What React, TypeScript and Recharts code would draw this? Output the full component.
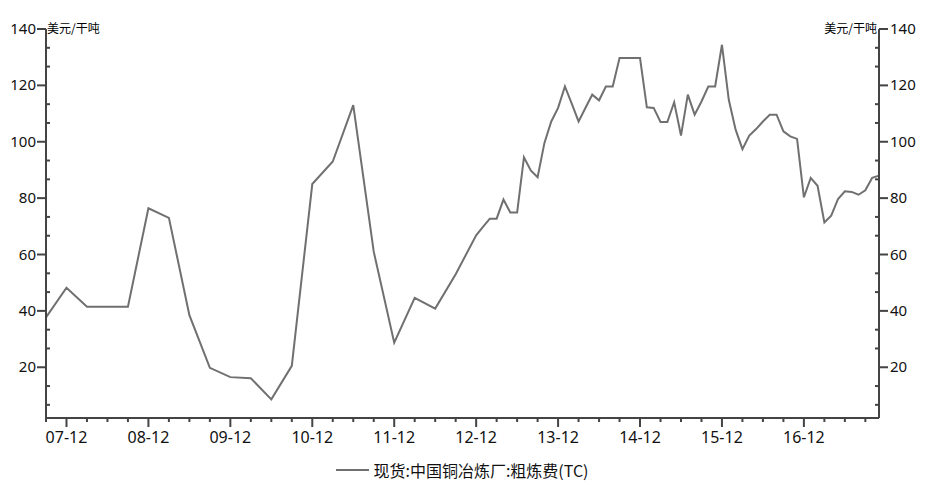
import React from 'react';
import { LineChart, Line, XAxis, YAxis, Legend } from 'recharts';

// month index: 0 = 2007-01
const months = [
  8, 11, 14, 17, 20, 23, 26, 29, 32, 35, 38, 41, 44, 47, 50, 53, 56, 59, 62, 65, 68,
  71, 72, 73, 74, 75, 76, 77, 78, 79, 80, 81, 82, 83, 84, 85, 86, 87, 88, 89, 90,
  91, 92, 93, 94, 95, 96, 97, 98, 99, 100, 101, 102, 103, 104, 105, 106, 107, 108,
  109, 110, 111, 112, 113, 114, 115, 116, 117, 118, 119, 120, 121, 122, 123, 124,
  125, 126, 127, 128, 129, 130,
];
const tcValues = [
  37.7, 48.2, 41.5, 41.5, 41.5, 76.4, 73, 38.5, 19.8, 16.5, 16.1, 8.6, 20.5, 85, 93, 113, 61, 28.7, 44.6, 40.8, 53,
  66.8, 69.8, 72.7, 72.7, 79.5, 74.9, 74.9, 94.5, 89.8, 87.4, 99.6, 107.2, 112, 119.6, 113.5, 107.2, 112, 116.7, 114.7, 119.6,
  119.6, 129.7, 129.7, 129.7, 129.7, 112.2, 112, 107, 107, 114, 102.2, 116.7, 109.6, 114.3, 119.6, 119.6, 134.4, 114.9,
  104.3, 97.4, 102.2, 104.5, 107.2, 109.6, 109.6, 103.7, 101.9, 101, 80.3, 87.2, 84.4, 71.4, 73.8, 79.7,
  82.4, 82.2, 81.2, 82.8, 87.2, 88,
];
const xTicks = [8, 11, 14, 17, 20, 23, 26, 29, 32, 35, 38, 41, 44, 47, 50, 53, 56, 59, 62, 65, 68, 71, 74, 77, 80, 83, 86, 89, 92, 95, 98, 101, 104, 107, 110, 113, 116, 119, 122, 125, 128];
const yTicks = [6.667, 13.333, 20, 26.667, 33.333, 40, 46.667, 53.333, 60, 66.667, 73.333, 80, 86.667, 93.333, 100, 106.667, 113.333, 120, 126.667, 133.333, 140];
const seriesName = '现货:中国铜冶炼厂:粗炼费(TC)';
const unitLabel = '美元/干吨';

const data = months.map((m, i) => ({ m, tc: tcValues[i] }));

const AXIS = '#444444';
const LINE = '#707070';
const FONT = '"Noto Sans", "Noto Sans CJK SC", sans-serif';
const CJK = '"Noto Sans CJK SC", sans-serif';

const monthLabel = (t: number) => {
  const yy = 7 + Math.floor(t / 12);
  const mm = (t % 12) + 1;
  return `${String(yy).padStart(2, '0')}-${String(mm).padStart(2, '0')}`;
};

const isMajorY = (v: number) => Math.abs(v / 20 - Math.round(v / 20)) < 0.001;

const XTick = (props: any) => {
  const { x, y, payload } = props;
  const major = (payload.value - 11) % 12 === 0;
  return (
    <g>
      <line x1={x} x2={x} y1={y} y2={y + (major ? 9 : 4)} stroke={AXIS} strokeWidth={2} />
      {major && (
        <text x={x} y={y + 25} textAnchor="middle" fontFamily={FONT} fontSize={16} fill="#111">
          {monthLabel(payload.value)}
        </text>
      )}
    </g>
  );
};

const LeftTick = (props: any) => {
  const { x, y, payload } = props;
  const major = isMajorY(payload.value);
  return (
    <g>
      {major ? (
        <line x1={x - 9} x2={x} y1={y} y2={y} stroke={AXIS} strokeWidth={2} />
      ) : (
        <line x1={x} x2={x + 4} y1={y} y2={y} stroke={AXIS} strokeWidth={2} />
      )}
      {major && (
        <text x={x - 10} y={y + 5} textAnchor="end" fontFamily={FONT} fontSize={15} fill="#111">
          {Math.round(payload.value)}
        </text>
      )}
    </g>
  );
};

const RightTick = (props: any) => {
  const { x, y, payload } = props;
  const major = isMajorY(payload.value);
  return (
    <g>
      {major ? (
        <line x1={x} x2={x + 9} y1={y} y2={y} stroke={AXIS} strokeWidth={2} />
      ) : (
        <line x1={x - 4} x2={x} y1={y} y2={y} stroke={AXIS} strokeWidth={2} />
      )}
      {major && (
        <text x={x + 11} y={y + 5} textAnchor="start" fontFamily={FONT} fontSize={15} fill="#111">
          {Math.round(payload.value)}
        </text>
      )}
    </g>
  );
};

const renderLegend = () => (
  <div style={{ display: 'flex', justifyContent: 'center', alignItems: 'center', height: 16, fontFamily: CJK, fontSize: 16, color: '#111' }}>
    <svg width={33} height={10}>
      <line x1={0} x2={33} y1={5} y2={5} stroke={LINE} strokeWidth={2} />
    </svg>
    <span style={{ marginLeft: 4, lineHeight: '16px' }}>{seriesName}</span>
  </div>
);

export default function App() {
  return (
    <div style={{ width: 925, height: 492, background: '#fff' }}>
      <style>{'body{margin:0;background:#fff}'}</style>
      <LineChart width={925} height={492} data={data} margin={{ top: 29, right: 0, bottom: 0, left: 0 }}>
        <XAxis
          dataKey="m"
          type="number"
          domain={[8, 130]}
          ticks={xTicks}
          interval={0}
          tickSize={0}
          tickMargin={0}
          tickLine={false}
          tick={<XTick />}
          height={44}
          axisLine={{ stroke: AXIS, strokeWidth: 2 }}
        />
        <YAxis
          yAxisId="left"
          orientation="left"
          type="number"
          domain={[2, 140]}
          ticks={yTicks}
          interval={0}
          width={46}
          tickSize={0}
          tickMargin={0}
          tickLine={false}
          tick={<LeftTick />}
          axisLine={{ stroke: AXIS, strokeWidth: 2 }}
          label={{
            content: (p: any) => (
              <text x={p.viewBox.x + p.viewBox.width + 1} y={p.viewBox.y + 4} fontFamily={CJK} fontSize={12} fill="#000">
                {unitLabel}
              </text>
            ),
          }}
        />
        <YAxis
          yAxisId="right"
          orientation="right"
          type="number"
          domain={[2, 140]}
          ticks={yTicks}
          interval={0}
          width={46}
          tickSize={0}
          tickMargin={0}
          tickLine={false}
          tick={<RightTick />}
          axisLine={{ stroke: AXIS, strokeWidth: 2 }}
          label={{
            content: (p: any) => (
              <text x={p.viewBox.x - 2} y={p.viewBox.y + 4} textAnchor="end" fontFamily={CJK} fontSize={12} fill="#000">
                {unitLabel}
              </text>
            ),
          }}
        />
        <Legend verticalAlign="bottom" height={30} content={renderLegend} />
        <Line
          yAxisId="right"
          type="linear"
          dataKey="tc"
          stroke="none"
          dot={false}
          activeDot={false}
          legendType="none"
          isAnimationActive={false}
        />
        <Line
          yAxisId="left"
          type="linear"
          dataKey="tc"
          name={seriesName}
          stroke={LINE}
          strokeWidth={2}
          dot={false}
          isAnimationActive={false}
        />
      </LineChart>
    </div>
  );
}
